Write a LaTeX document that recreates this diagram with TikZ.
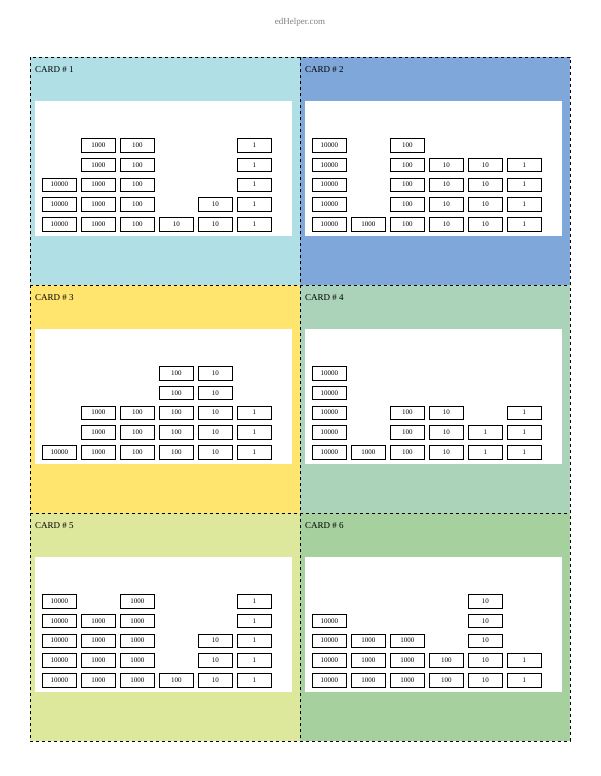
\documentclass[tikz,border=0pt]{standalone}
\usepackage{fontspec}
\setmainfont{Liberation Serif}
\definecolor{cA}{HTML}{B0E0E6}
\definecolor{cB}{HTML}{7FA7D9}
\definecolor{cC}{HTML}{FFE56E}
\definecolor{cD}{HTML}{ABD3B9}
\definecolor{cE}{HTML}{DDE89C}
\definecolor{cF}{HTML}{A6D19F}
\begin{document}
\begin{tikzpicture}[x=1pt,y=-1pt,
  blk/.style={draw=black,line width=0.8pt,fill=white,minimum width=34pt,minimum height=13.5pt,inner sep=0pt,anchor=north west,font=\fontsize{7}{7}\selectfont},
  ttl/.style={anchor=west,font=\fontsize{9}{9}\selectfont,inner sep=0pt}]
\useasboundingbox (0,0) rectangle (600,776);
\fill[white] (0,0) rectangle (600,776);
\node[font=\fontsize{9}{9}\selectfont,text=gray] (hdr) at (300,22) {edHelper.com};
\newcommand{\mkcard}[5]{% id, x, y, colour, title
  \fill[#4] (#2,#3) rectangle ++(270,228);
  \fill[white] (#2+5,#3+44) rectangle ++(257,135);
  \node[ttl] (t#1) at (#2+5,#3+13) {#5};
}
\newcommand{\blkcol}[6]{% id, x, y, col, rows, label
  \foreach \r in {#5} {
    \node[blk] (b#1-#4-\r) at ({#2+12+39*#4},{#3+81+19.75*\r}) {#6};
  }
}
\mkcard{1}{30}{57}{cA}{CARD \# 1}
\mkcard{2}{300}{57}{cB}{CARD \# 2}
\mkcard{3}{30}{285}{cC}{CARD \# 3}
\mkcard{4}{300}{285}{cD}{CARD \# 4}
\mkcard{5}{30}{513}{cE}{CARD \# 5}
\mkcard{6}{300}{513}{cF}{CARD \# 6}
% card 1
\blkcol{1}{30}{57}{0}{2,3,4}{10000}
\blkcol{1}{30}{57}{1}{0,1,2,3,4}{1000}
\blkcol{1}{30}{57}{2}{0,1,2,3,4}{100}
\blkcol{1}{30}{57}{3}{4}{10}
\blkcol{1}{30}{57}{4}{3,4}{10}
\blkcol{1}{30}{57}{5}{0,1,2,3,4}{1}
% card 2
\blkcol{2}{300}{57}{0}{0,1,2,3,4}{10000}
\blkcol{2}{300}{57}{1}{4}{1000}
\blkcol{2}{300}{57}{2}{0,1,2,3,4}{100}
\blkcol{2}{300}{57}{3}{1,2,3,4}{10}
\blkcol{2}{300}{57}{4}{1,2,3,4}{10}
\blkcol{2}{300}{57}{5}{1,2,3,4}{1}
% card 3
\blkcol{3}{30}{285}{0}{4}{10000}
\blkcol{3}{30}{285}{1}{2,3,4}{1000}
\blkcol{3}{30}{285}{2}{2,3,4}{100}
\blkcol{3}{30}{285}{3}{0,1,2,3,4}{100}
\blkcol{3}{30}{285}{4}{0,1,2,3,4}{10}
\blkcol{3}{30}{285}{5}{2,3,4}{1}
% card 4
\blkcol{4}{300}{285}{0}{0,1,2,3,4}{10000}
\blkcol{4}{300}{285}{1}{4}{1000}
\blkcol{4}{300}{285}{2}{2,3,4}{100}
\blkcol{4}{300}{285}{3}{2,3,4}{10}
\blkcol{4}{300}{285}{4}{3,4}{1}
\blkcol{4}{300}{285}{5}{2,3,4}{1}
% card 5
\blkcol{5}{30}{513}{0}{0,1,2,3,4}{10000}
\blkcol{5}{30}{513}{1}{1,2,3,4}{1000}
\blkcol{5}{30}{513}{2}{0,1,2,3,4}{1000}
\blkcol{5}{30}{513}{3}{4}{100}
\blkcol{5}{30}{513}{4}{2,3,4}{10}
\blkcol{5}{30}{513}{5}{0,1,2,3,4}{1}
% card 6
\blkcol{6}{300}{513}{0}{1,2,3,4}{10000}
\blkcol{6}{300}{513}{1}{2,3,4}{1000}
\blkcol{6}{300}{513}{2}{2,3,4}{1000}
\blkcol{6}{300}{513}{3}{3,4}{100}
\blkcol{6}{300}{513}{4}{0,1,2,3,4}{10}
\blkcol{6}{300}{513}{5}{3,4}{1}
% dashed cut lines
\draw[dashed,line width=0.7pt] (30,57) rectangle (570,741);
\draw[dashed,line width=0.7pt] (300,57) -- (300,741);
\draw[dashed,line width=0.7pt] (30,285) -- (570,285);
\draw[dashed,line width=0.7pt] (30,513) -- (570,513);
\end{tikzpicture}
\end{document}
